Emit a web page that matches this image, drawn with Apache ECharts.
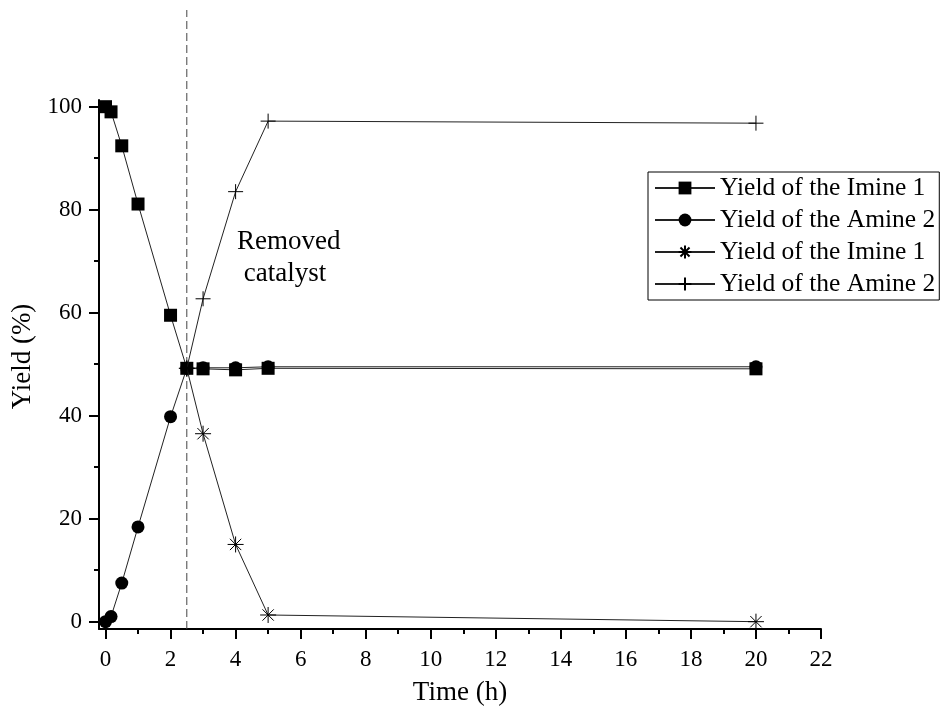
<!DOCTYPE html>
<html><head><meta charset="utf-8">
<script src="https://cdn.jsdelivr.net/npm/echarts@6/dist/echarts.min.js"></script>
<style>html,body{margin:0;padding:0;background:#fff}#c{width:943px;height:716px}</style>
</head><body><div id="c"></div>
<script>
const timeA = [0, 0.17, 0.5, 1, 2, 2.5, 3, 4, 5, 20];
const imine1 = [100, 99.0, 92.4, 81.1, 59.5, 49.2, 49.1, 48.9, 49.2, 49.1];
const amine2 = [0, 1.0, 7.5, 18.4, 39.8, 49.2, 49.3, 49.3, 49.5, 49.5];
const timeB = [2.5, 3, 4, 5, 20];
const imine1Removed = [49.2, 36.5, 15.0, 1.3, 0.0];
const amine2Removed = [49.2, 62.7, 83.5, 97.2, 96.8];
const removalTime = 2.5;
const xMajor = [0, 2, 4, 6, 8, 10, 12, 14, 16, 18, 20, 22];
const xMinor = [1, 3, 5, 7, 9, 11, 13, 15, 17, 19, 21];
const yMajor = [0, 20, 40, 60, 80, 100];
const yMinor = [10, 30, 50, 70, 90];
const seriesNames = ['Yield of the Imine 1', 'Yield of the Amine 2', 'Yield of the Imine 1 ', 'Yield of the Amine 2 '];

const FONT = 'Liberation Serif';
const zip = (xs, ys) => xs.map((x, i) => [x, ys[i]]);
const STAR = 'path://M0 5 L10 5 M5 0 L5 10 M1.46 1.46 L8.54 8.54 M8.54 1.46 L1.46 8.54';
const PLUS = 'path://M0 5 L10 5 M5 0 L5 10';

const chart = echarts.init(document.getElementById('c'), null, {renderer: 'canvas'});
const xr = {min: -0.2, max: 22};
chart.setOption({
  animation: false,
  backgroundColor: '#fff',
  textStyle: {fontFamily: FONT, color: '#000'},
  grid: [
    {left: 99, right: 122, top: 100, bottom: 87},
    {left: 99, right: 122, top: 10, bottom: 87}
  ],
  xAxis: [
    {gridIndex: 0, type: 'value', position: 'bottom', min: xr.min, max: xr.max,
     name: 'Time (h)', nameLocation: 'middle', nameGap: 50,
     nameTextStyle: {fontFamily: FONT, fontSize: 27, color: '#000'},
     axisLine: {show: true, onZero: false, lineStyle: {color: '#000', width: 2}},
     axisTick: {show: true, inside: false, length: 10, customValues: xMajor, lineStyle: {color: '#000', width: 2}},
     axisLabel: {customValues: xMajor, fontFamily: FONT, fontSize: 23, color: '#000', margin: 19},
     splitLine: {show: false}},
    {gridIndex: 0, type: 'value', position: 'bottom', min: xr.min, max: xr.max,
     axisLine: {show: false, onZero: false},
     axisTick: {show: true, inside: false, length: 5, customValues: xMinor, lineStyle: {color: '#000', width: 2}},
     axisLabel: {show: false}, splitLine: {show: false}},
    {gridIndex: 1, type: 'value', min: xr.min, max: xr.max, show: false}
  ],
  yAxis: [
    {gridIndex: 0, type: 'value', position: 'left', min: -1.42, max: 101.3,
     name: 'Yield (%)', nameLocation: 'middle', nameGap: 56,
     nameTextStyle: {fontFamily: FONT, fontSize: 27, color: '#000', padding: [0, 0, 0, 16]},
     axisLine: {show: true, onZero: false, lineStyle: {color: '#000', width: 2}},
     axisTick: {show: true, inside: false, length: 10, customValues: yMajor, lineStyle: {color: '#000', width: 2}},
     axisLabel: {customValues: yMajor, fontFamily: FONT, fontSize: 23, color: '#000', margin: 17},
     splitLine: {show: false}},
    {gridIndex: 0, type: 'value', position: 'left', min: -1.42, max: 101.3,
     axisLine: {show: false, onZero: false},
     axisTick: {show: true, inside: false, length: 5, customValues: yMinor, lineStyle: {color: '#000', width: 2}},
     axisLabel: {show: false}, splitLine: {show: false}},
    {gridIndex: 1, type: 'value', min: 0, max: 1, show: false}
  ],
  legend: {
    orient: 'vertical', left: 648, top: 172,
    data: seriesNames,
    formatter: n => n.trim(),
    itemWidth: 60, itemHeight: 16, itemGap: 6,
    padding: [3, 4, 3, 6],
    borderColor: '#000', borderWidth: 1,
    textStyle: {fontFamily: FONT, fontSize: 25.5, color: '#000'}
  },
  graphic: [{
    type: 'text', left: 237, top: 226,
    style: {text: 'Removed\n catalyst', font: '27px "Liberation Serif"', fill: '#000', lineHeight: 32, textAlign: 'left'}
  }],
  series: [
    {name: 'dash', type: 'line', xAxisIndex: 2, yAxisIndex: 2, data: [[removalTime, 0], [removalTime, 1]],
     symbol: 'none', silent: true, lineStyle: {color: '#444', width: 1, type: [8, 4]}, z: 1},
    {name: seriesNames[0], type: 'line', data: zip(timeA, imine1),
     symbol: 'rect', symbolSize: 13, itemStyle: {color: '#000'}, lineStyle: {color: '#222', width: 1}, z: 3},
    {name: seriesNames[1], type: 'line', data: zip(timeA, amine2),
     symbol: 'circle', symbolSize: 13, itemStyle: {color: '#000'}, lineStyle: {color: '#222', width: 1}, z: 4},
    {name: seriesNames[2], type: 'line', data: zip(timeB, imine1Removed),
     symbol: STAR, symbolSize: 16, itemStyle: {color: '#fff', borderColor: '#000', borderWidth: 1}, lineStyle: {color: '#222', width: 1}, z: 5},
    {name: seriesNames[3], type: 'line', data: zip(timeB, amine2Removed),
     symbol: PLUS, symbolSize: 15, itemStyle: {color: '#fff', borderColor: '#000', borderWidth: 1}, lineStyle: {color: '#222', width: 1}, z: 5}
  ]
});
</script></body></html>
